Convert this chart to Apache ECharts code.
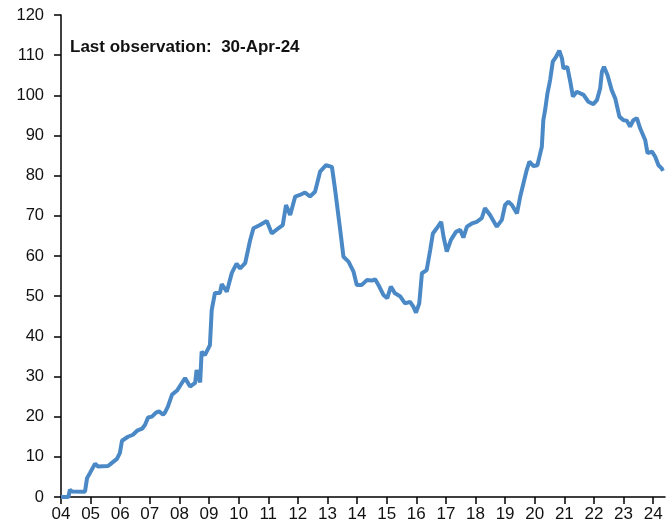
<!DOCTYPE html>
<html>
<head>
<meta charset="utf-8">
<script src="https://cdn.jsdelivr.net/npm/echarts@6/dist/echarts.min.js"></script>
<style>
html,body{margin:0;padding:0;background:#fff;}
#c{width:671px;height:525px;}
</style>
</head>
<body>
<div id="c"></div>
<script>
// time (decimal years) of each observation
const dates = [
2004.00,2004.25,2004.30,2004.37,2004.81,2004.86,2004.88,2004.98,2005.15,2005.25,
2005.59,2005.72,2005.89,2005.99,2006.06,2006.26,2006.43,2006.57,2006.74,2006.84,
2006.94,2007.07,2007.21,2007.31,2007.45,2007.51,2007.61,2007.75,2007.92,2008.05,
2008.19,2008.36,2008.53,2008.58,2008.70,2008.75,2008.86,2009.03,2009.09,2009.20,
2009.37,2009.43,2009.60,2009.77,2009.93,2010.05,2010.22,2010.39,2010.50,2010.72,
2010.95,2011.12,2011.34,2011.49,2011.60,2011.74,2011.91,2012.07,2012.24,2012.41,
2012.58,2012.75,2012.95,2013.15,2013.26,2013.43,2013.54,2013.71,2013.88,2013.99,
2014.16,2014.33,2014.50,2014.61,2014.75,2014.89,2015.02,2015.14,2015.28,2015.45,
2015.62,2015.79,2015.90,2015.99,2016.10,2016.19,2016.35,2016.47,2016.56,2016.69,
2016.84,2016.92,2017.03,2017.17,2017.34,2017.48,2017.59,2017.71,2017.88,2018.04,
2018.21,2018.32,2018.49,2018.72,2018.89,2019.00,2019.11,2019.23,2019.40,2019.51,
2019.62,2019.73,2019.82,2019.96,2020.09,2020.24,2020.29,2020.35,2020.43,2020.52,
2020.61,2020.72,2020.83,2020.92,2020.97,2021.10,2021.20,2021.29,2021.42,2021.65,
2021.81,2021.98,2022.10,2022.21,2022.27,2022.34,2022.46,2022.60,2022.72,2022.86,
2023.00,2023.11,2023.22,2023.33,2023.45,2023.56,2023.73,2023.81,2023.96,2024.07,
2024.18,2024.29,2024.33
];
// series values
const values = [
0,0,1.8,1.4,1.3,1.5,4.7,6,8.3,7.6,
7.7,8.5,9.5,11,14,15,15.5,16.5,17,18,
19.8,20,21,21.3,20.5,21,22.5,25.5,26.5,28,
29.6,27.5,28.4,31.6,28.5,36.2,35.3,37.8,46.5,50.8,
50.8,53,51.1,55.8,58.1,56.9,58.2,64,66.9,67.7,
68.7,65.6,66.9,67.7,72.7,70.2,74.8,75.2,75.8,74.8,
76,81,82.6,82.2,76.4,66.5,59.8,58.6,56.1,52.8,
52.8,54,53.9,54.2,52.4,50.3,49.5,52.4,50.7,50,
48.2,48.6,47.4,45.9,48.2,55.7,56.5,61.5,65.6,66.9,
68.5,64.8,61.1,64,66,66.5,64.6,67.3,68.1,68.5,
69.4,71.9,70.2,67.3,69,72.7,73.5,72.7,70.6,74.8,
78.1,81.4,83.5,82.4,82.6,87.2,93.8,96.3,100.5,103.8,
108.4,109.6,111.1,109.2,106.7,107.1,103.4,99.7,100.9,100.1,
98.4,97.8,98.8,101.7,105.9,107.1,105,101.3,99.2,94.7,
93.8,93.7,92.2,93.8,94.3,91.8,88.9,85.6,86,84.7,
82.6,81.8,81.2
];
// x tick years and labels
const tickYears = [2004,2005,2006,2007,2008,2009,2010,2011,2012,2013,2014,2015,2016,2017,2018,2019,2020,2021,2022,2023,2024];
const tickLabels = ['04','05','06','07','08','09','10','11','12','13','14','15','16','17','18','19','20','21','22','23','24'];
const annotation = 'Last observation:  30-Apr-24';

const chart = echarts.init(document.getElementById('c'), null, {renderer:'canvas'});
const font = '"Liberation Sans", Arial, sans-serif';
chart.setOption({
  animation:false,
  backgroundColor:'#fff',
  grid:{left:61, right:6, top:15, bottom:28, containLabel:false},
  xAxis:{
    type:'value', min:2004, max:2024.4,
    axisLine:{show:true, lineStyle:{color:'#000', width:1.5}},
    axisTick:{show:true, inside:false, length:7, lineStyle:{color:'#000', width:1.5}, customValues:tickYears},
    axisLabel:{customValues:tickYears, margin:9, color:'#111', fontSize:17, fontFamily:font,
      formatter:v=>{const i=tickYears.indexOf(Math.round(v)); return i>=0?tickLabels[i]:'';}},
    splitLine:{show:false}
  },
  yAxis:{
    type:'value', min:0, max:120, interval:10,
    axisLine:{show:true, lineStyle:{color:'#000', width:1.5}},
    axisTick:{show:true, inside:false, length:7, lineStyle:{color:'#000', width:1.5}},
    axisLabel:{margin:17, color:'#111', fontSize:16.5, fontFamily:font},
    splitLine:{show:false}
  },
  graphic:[{
    type:'text', left:70, top:39,
    style:{text:annotation, fill:'#111', font:'bold 17px '+font}
  }],
  series:[{
    type:'line',
    data:dates.map((d,i)=>[d,values[i]]),
    showSymbol:false,
    lineStyle:{color:'#4a89c6', width:4},
    itemStyle:{color:'#4a89c6'}
  }]
});
</script>
</body>
</html>
